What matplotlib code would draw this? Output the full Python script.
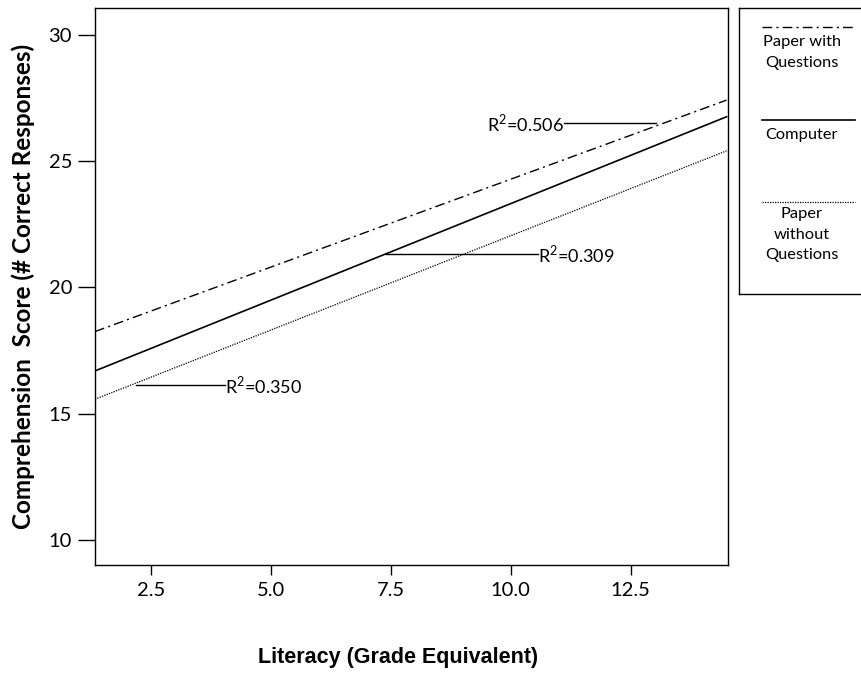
import matplotlib
matplotlib.use("Agg")
import matplotlib.pyplot as plt

# fitted lines, endpoints
x_ends = [1.34, 14.5]
paper_q = [18.25, 27.42]
computer = [16.69, 26.76]
paper_noq = [15.57, 25.41]

# R^2 labels: (text, text x, text y, point x, point y, ha)
r2_notes = [
    ("R$^2$=0.506", 11.12, 26.5, 13.02, 26.5, "right"),
    ("R$^2$=0.309", 10.58, 21.33, 7.41, 21.33, "left"),
    ("R$^2$=0.350", 4.05, 16.14, 2.19, 16.14, "left"),
]

legend_names = ["Paper with\nQuestions", "Computer", "Paper\nwithout\nQuestions"]

plt.rcParams['font.family'] = ['Lato', 'DejaVu Sans']
plt.rcParams['mathtext.fontset'] = 'custom'
plt.rcParams['mathtext.rm'] = 'Lato'

fig = plt.figure(figsize=(8.61, 6.73), dpi=100)
ax = fig.add_axes([95/861, 1-565/673, (728-95)/861, (565-8)/673])

dashdot = (0, (7, 3, 1.5, 3))
ax.plot(x_ends, paper_q, color='black', lw=1, ls=dashdot)
ax.plot(x_ends, computer, color='black', lw=1.2, ls='-')
ax.plot(x_ends, paper_noq, color='black', lw=0.9, ls=(0, (1, 1)))

for txt, tx, ty, px, py, ha in r2_notes:
    ax.plot([tx, px], [ty, py], color='black', lw=1)
    ax.text(tx, ty, txt, ha=ha, va='center', fontsize=13)

ax.set_xlim(1.34, 14.53)
ax.set_ylim(9.0, 31.07)
ax.set_xticks([2.5, 5.0, 7.5, 10.0, 12.5])
ax.set_xticklabels(['2.5', '5.0', '7.5', '10.0', '12.5'])
ax.set_yticks([10, 15, 20, 25, 30])
ax.tick_params(axis='x', direction='out', length=7.5, width=1, labelsize=14.5, pad=5)
ax.tick_params(axis='y', direction='out', length=12.5, width=1, labelsize=14.5, pad=4)
for s in ax.spines.values():
    s.set_linewidth(1)

ax.set_ylabel('Comprehension  Score (# Correct Responses)', fontsize=17.5,
              fontweight='bold', labelpad=10)
fig.text(398/861, 1-657/673, 'Literacy (Grade Equivalent)', ha='center', va='center',
         fontsize=15.5, fontweight='bold', family=['Liberation Sans', 'DejaVu Sans'])

# legend box, right edge runs off the canvas
lax = fig.add_axes([739/861, 1-294/673, 140/861, (294-8)/673])
lax.set_xlim(739, 879)
lax.set_ylim(294, 8)
lax.set_xticks([])
lax.set_yticks([])
for s in lax.spines.values():
    s.set_linewidth(1)
styles = [dict(ls=dashdot, lw=1), dict(ls='-', lw=1.2), dict(ls=(0, (1, 1)), lw=0.9)]
line_y = [27, 120, 202]
text_y = [35, 128, 207]
for name, st, ly, ty in zip(legend_names, styles, line_y, text_y):
    lax.plot([762, 855], [ly, ly], color='black', **st)
    lax.text(802, ty, name, ha='center', va='top', fontsize=11.8, linespacing=1.6)

fig.savefig('out.png', dpi=100)
